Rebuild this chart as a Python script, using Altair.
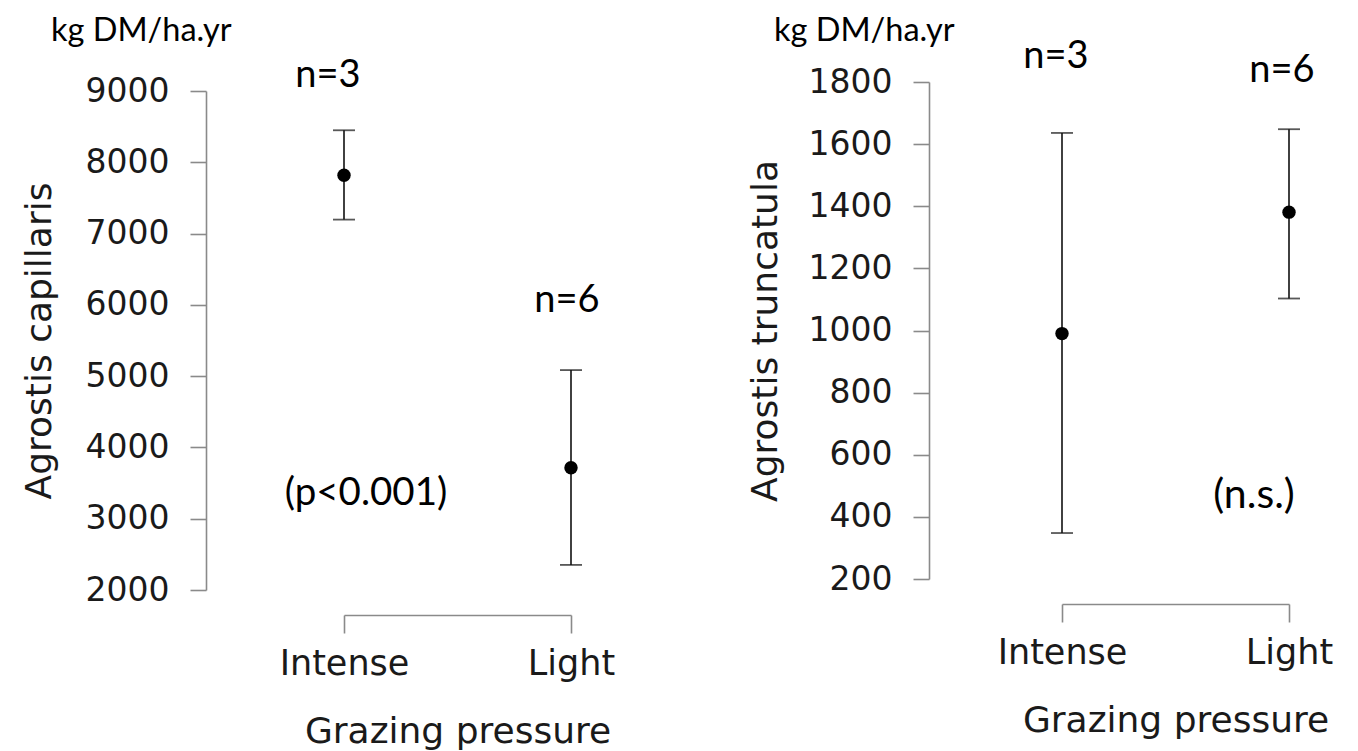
import altair as alt
import pandas as pd

# ---- data ----
groups = ["Intense", "Light"]

cap_mean = [7818, 3714]
cap_lo = [7196, 2352]
cap_hi = [8449, 5085]

tru_mean = [990, 1381]
tru_lo = [348, 1103]
tru_hi = [1636, 1648]

n_labels = ["n=3", "n=6"]
unit_label = "kg DM/ha.yr"
cap_test = "(p<0.001)"
tru_test = "(n.s.)"

cap_ticks = [2000, 3000, 4000, 5000, 6000, 7000, 8000, 9000]
tru_ticks = [200, 400, 600, 800, 1000, 1200, 1400, 1600, 1800]

AX_FONT = "DejaVu Sans"
NOTE_FONT = "Lato"
INK = "#111111"
GREY = "#8a8a8a"


def note(text, x, y, size, align="center"):
    return alt.Chart(pd.DataFrame({"t": [text]})).mark_text(
        font=NOTE_FONT, fontSize=size, align=align, baseline="alphabetic", color="black"
    ).encode(x=alt.value(x), y=alt.value(y), text="t:N")


def panel(mean, lo, hi, ytitle, domain, ticks, yoffset, ytitlepad, height, top, notes):
    df = pd.DataFrame({"group": groups, "mean": mean, "lo": lo, "hi": hi})
    xenc = alt.X(
        "group:N",
        sort=groups,
        scale=alt.Scale(type="point", domain=groups, padding=0),
        axis=alt.Axis(
            title="Grazing pressure",
            offset=25,
            tickSize=18,
            labelPadding=13,
            labelFontSize=35,
            titleFontSize=36,
            titlePadding=33,
            labelAngle=0,
        ),
    )
    yenc = alt.Y(
        "lo:Q",
        scale=alt.Scale(domain=domain, nice=False, zero=False, range=[height, top]),
        axis=alt.Axis(
            title=ytitle,
            values=ticks,
            format="d",
            offset=yoffset,
            tickSize=16,
            labelPadding=21,
            labelFontSize=33,
            titleFontSize=36,
            titlePadding=ytitlepad,
            grid=False,
        ),
    )
    base = alt.Chart(df)
    bar = base.mark_rule(color=INK, strokeWidth=1.6).encode(x=xenc, y=yenc, y2="hi:Q")
    cap_top = base.mark_tick(orient="horizontal", size=22, thickness=1.8, color=INK).encode(
        x="group:N", y="hi:Q"
    )
    cap_bot = base.mark_tick(orient="horizontal", size=22, thickness=1.8, color=INK).encode(
        x="group:N", y="lo:Q"
    )
    pts = base.mark_circle(size=180, color="black", opacity=1).encode(x="group:N", y="mean:Q")
    layers = [bar, cap_top, cap_bot, pts] + notes
    return alt.layer(*layers).properties(width=227, height=height)


left = panel(
    cap_mean, cap_lo, cap_hi, "Agrostis capillaris", [2000, 9000], cap_ticks,
    138, 27, 508, 9,
    [
        note(unit_label, -293, -41, 32.5, align="left"),
        note(n_labels[0], -16, 5, 38),
        note(n_labels[1], 223, 230, 38),
        note(cap_test, 22, 423, 38.5),
    ],
)

right = panel(
    tru_mean, tru_lo, tru_hi, "Agrostis truncatula", [200, 1800], tru_ticks,
    133, 24, 497, 0,
    [
        note(unit_label, -288, -41, 32.5, align="left"),
        note(n_labels[0], -6, -14, 38),
        note(n_labels[1], 220, 0, 38),
        note(tru_test, 192, 426, 41),
    ],
)

chart = alt.hconcat(left, right, spacing=132).properties(
    padding={"left": 13, "top": 7, "right": 5, "bottom": 5}
).configure_view(stroke=None).configure_axis(
    labelFont=AX_FONT,
    labelColor="#1a1a1a",
    titleFont=AX_FONT,
    titleFontWeight="normal",
    titleColor="#1a1a1a",
    domainColor=GREY,
    domainWidth=1.6,
    tickColor=GREY,
    tickWidth=1.6,
)

chart.save("out.html", embed_options={"renderer": "svg", "actions": False})
